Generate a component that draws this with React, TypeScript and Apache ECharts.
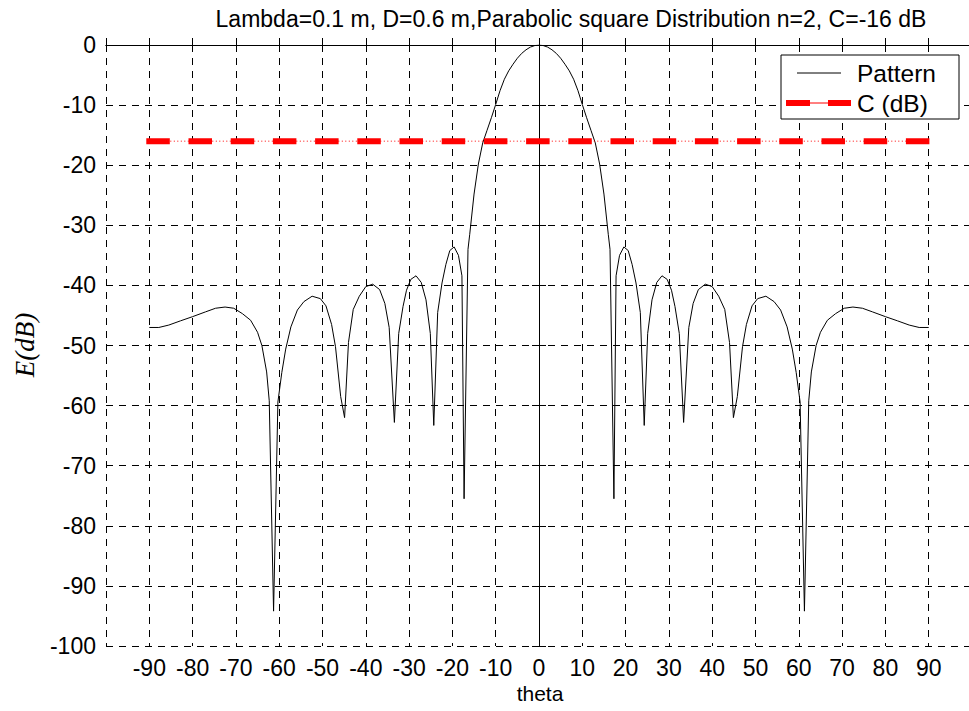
import React, { useEffect, useRef } from "react";
import * as echarts from "echarts";

const titleText = "Lambda=0.1 m, D=0.6 m,Parabolic square Distribution n=2, C=-16 dB";
const xName = "theta";
const yName = "E(dB)";
const legendNames = ["Pattern", "C (dB)"];

// Pattern samples: angle (deg) and level (dB)
const thetaDeg = [
  -90, -87.8, -85.5, -82.8, -80, -77, -74.7, -72.5, -70.5, -68.5, -66.6, -65, -64, -62.9, -62.3, -61.3,
  -60.3, -59.4, -58.5, -57.3, -55.8, -54.3, -52.4, -50.5, -49.2, -47.9, -47, -45.8, -44.9, -44, -42.9,
  -41.5, -40, -38.4, -36.8, -35.6, -34.6, -33.4, -32.4, -31.4, -30.6, -29.6, -28.4, -27.2, -26.1, -25.1,
  -24.3, -23.4, -22.4, -21.5, -20.6, -19.6, -18.6, -17.8, -17.3, -16.4, -16, -15, -14, -13, -12, -11,
  -10, -9, -8, -7, -6, -5, -4, -3, -2, -1, 0,
  1, 2, 3, 4, 5, 6, 7, 8, 9, 10, 11, 12, 13, 14, 15, 16, 16.4, 17.3, 17.8, 18.6, 19.6, 20.6, 21.5,
  22.4, 23.4, 24.3, 25.1, 26.1, 27.2, 28.4, 29.6, 30.6, 31.4, 32.4, 33.4, 34.6, 35.6, 36.8, 38.4, 40,
  41.5, 42.9, 44, 44.9, 45.8, 47, 47.9, 49.2, 50.5, 52.4, 54.3, 55.8, 57.3, 58.5, 59.4, 60.3, 61.3,
  62.3, 62.9, 64, 65, 66.6, 68.5, 70.5, 72.5, 74.7, 77, 80, 82.8, 85.5, 87.8, 90,
];
const patternDb = [
  -47.0, -47.0, -46.6, -45.9, -45.2, -44.4, -43.8, -43.6, -43.8, -44.7, -45.8, -47.8, -50, -54.4, -59.2, -94.2,
  -59.4, -54.5, -50.6, -46.9, -44.1, -42.7, -41.8, -42.2, -43.4, -46.5, -50.2, -58.5, -62, -49.5, -44,
  -41.8, -40.2, -39.8, -40.7, -43, -47, -62.8, -48, -43.5, -40.8, -39, -38.4, -39.5, -42.4, -48,
  -63.3, -44.5, -39.6, -36.5, -34.2, -33.6, -35, -38.4, -75.5, -34, -31.5, -24.8, -19.8, -16.3, -14.2, -12.1,
  -9.9, -7.6, -5.7, -4.3, -3.2, -2.2, -1.4, -0.8, -0.35, -0.1, 0,
  -0.1, -0.35, -0.8, -1.4, -2.2, -3.2, -4.3, -5.7, -7.6, -9.9, -12.1, -14.2, -16.3, -19.8, -24.8, -31.5, -34, -75.5, -38.4, -35, -33.6, -34.2, -36.5,
  -39.6, -44.5, -63.3, -48, -42.4, -39.5, -38.4, -39, -40.8, -43.5, -48, -62.8, -47, -43, -40.7, -39.8, -40.2,
  -41.8, -44, -49.5, -62, -58.5, -50.2, -46.5, -43.4, -42.2, -41.8, -42.7, -44.1, -46.9, -50.6, -54.5, -59.4, -94.2,
  -59.2, -54.4, -50, -47.8, -45.8, -44.7, -43.8, -43.6, -43.8, -44.4, -45.2, -45.9, -46.6, -47.0, -47.0,
];

const cLevelDb = -16;
const cRange = [-90, 90];

const xMin = -100;
const xMax = 100;
const xStep = 10;
const yMin = -100;
const yMax = 0;
const yStep = 10;

const FONT = '"Liberation Sans", Arial, Helvetica, sans-serif';

export default function App() {
  const ref = useRef<HTMLDivElement>(null);

  useEffect(() => {
    document.documentElement.style.overflow = "hidden";
    document.body.style.margin = "0";
    document.body.style.overflow = "hidden";
    if (!ref.current) return;
    const chart = echarts.init(ref.current, null, { renderer: "svg" });

    const patternData = thetaDeg.map((t, i) => [t, patternDb[i]]);
    const cData = cRange.map((t) => [t, cLevelDb]);

    const gridLeft = 106;
    const gridTop = 45;
    const gridW = 866;
    const gridH = 601;

    const option: any = {
      animation: false,
      backgroundColor: "#fff",
      grid: { left: gridLeft, top: gridTop, width: gridW, height: gridH, containLabel: false },
      xAxis: [
        {
          type: "value",
          min: xMin,
          max: xMax,
          interval: xStep,
          position: "bottom",
          axisLine: { show: true, lineStyle: { color: "#000", width: 1 } },
          axisTick: { show: true, inside: true, length: 7, lineStyle: { color: "#000" } },
          axisLabel: {
            show: true,
            color: "#000",
            fontSize: 23,
            fontFamily: FONT,
            margin: 10,
            formatter: (v: number) => (Math.abs(v) >= 100 ? "" : String(v)),
          },
          splitLine: { show: true, lineStyle: { color: "#000", width: 1, type: [7, 6] } },
        },
        {
          type: "value",
          min: xMin,
          max: xMax,
          interval: xStep,
          position: "top",
          axisLine: { show: true, lineStyle: { color: "#000", width: 1 } },
          axisTick: { show: true, inside: true, length: 7, lineStyle: { color: "#000" } },
          axisLabel: { show: false },
          splitLine: { show: false },
        },
      ],
      yAxis: [
        {
          type: "value",
          min: yMin,
          max: yMax,
          interval: yStep,
          position: "left",
          axisLine: { show: true, lineStyle: { color: "#000", width: 1 } },
          axisTick: { show: true, inside: true, length: 7, lineStyle: { color: "#000" } },
          axisLabel: { color: "#000", fontSize: 23, fontFamily: FONT, margin: 10 },
          splitLine: { show: true, lineStyle: { color: "#000", width: 1, type: [7, 6] } },
        },
        {
          type: "value",
          min: yMin,
          max: yMax,
          interval: yStep,
          position: "right",
          axisLine: { show: true, lineStyle: { color: "#000", width: 1 } },
          axisTick: { show: true, inside: true, length: 7, lineStyle: { color: "#000" } },
          axisLabel: { show: false },
          splitLine: { show: false },
        },
      ],
      series: [
        {
          name: legendNames[0],
          type: "line",
          data: patternData,
          showSymbol: false,
          symbol: "none",
          smooth: false,
          lineStyle: { color: "#000", width: 1 },
          z: 3,
        },
        {
          name: legendNames[1],
          type: "line",
          data: cData,
          showSymbol: false,
          symbol: "none",
          lineStyle: { color: "#ff0000", width: 6, type: [17.5, 24.7], cap: "square" },
          z: 4,
        },
        {
          name: legendNames[1] + " line",
          type: "line",
          data: cData,
          showSymbol: false,
          symbol: "none",
          lineStyle: { color: "#ff0000", width: 1, type: [1, 2.5] },
          z: 4,
        },
      ],
      graphic: [
        {
          type: "text",
          x: 571,
          y: 19,
          style: {
            text: titleText,
            fill: "#000",
            fontSize: 23,
            fontFamily: FONT,
            align: "center",
            verticalAlign: "middle",
          },
        },
        {
          type: "text",
          x: 540,
          y: 693,
          style: {
            text: xName,
            fill: "#000",
            fontSize: 21,
            fontFamily: FONT,
            align: "center",
            verticalAlign: "middle",
          },
        },
        {
          type: "text",
          x: 25,
          y: 345,
          rotation: Math.PI / 2,
          style: {
            text: yName,
            fill: "#000",
            fontSize: 27,
            fontStyle: "italic",
            fontFamily: '"Liberation Serif", "Times New Roman", serif',
            align: "center",
            verticalAlign: "middle",
          },
        },
        {
          type: "rect",
          shape: { x: 781, y: 55, width: 178, height: 64 },
          style: { fill: "#fff", stroke: "#000", lineWidth: 1 },
          z: 100,
        },
        {
          type: "line",
          shape: { x1: 797, y1: 73, x2: 841, y2: 73 },
          style: { stroke: "#000", lineWidth: 1 },
          z: 101,
        },
        {
          type: "text",
          x: 857,
          y: 73,
          style: {
            text: legendNames[0],
            fill: "#000",
            fontSize: 24.5,
            fontFamily: FONT,
            align: "left",
            verticalAlign: "middle",
          },
          z: 101,
        },
        {
          type: "line",
          shape: { x1: 786, y1: 103, x2: 851, y2: 103 },
          style: { stroke: "#ff0000", lineWidth: 1 },
          z: 101,
        },
        {
          type: "line",
          shape: { x1: 786, y1: 103, x2: 851, y2: 103 },
          style: { stroke: "#ff0000", lineWidth: 6, lineDash: [24, 18] },
          z: 101,
        },
        {
          type: "text",
          x: 857,
          y: 103,
          style: {
            text: legendNames[1],
            fill: "#000",
            fontSize: 24.5,
            fontFamily: FONT,
            align: "left",
            verticalAlign: "middle",
          },
          z: 101,
        },
      ],
    };

    chart.setOption(option);
    return () => chart.dispose();
  }, []);

  return <div ref={ref} style={{ width: 980, height: 711 }} />;
}
